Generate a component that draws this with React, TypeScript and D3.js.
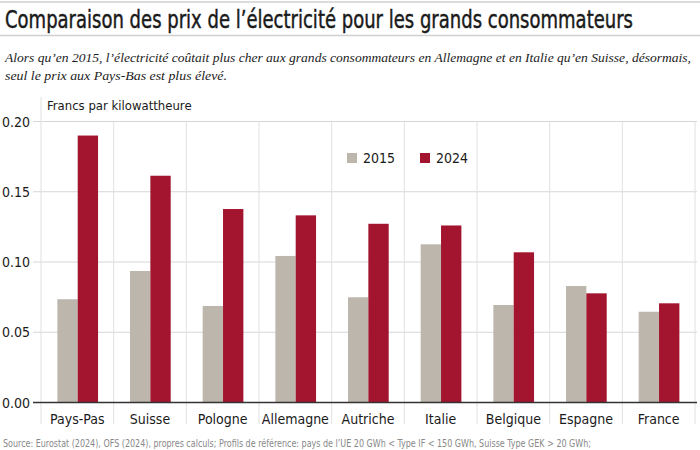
import React from 'react';
import * as d3 from 'd3';

const countries = ['Pays-Pas', 'Suisse', 'Pologne', 'Allemagne', 'Autriche', 'Italie', 'Belgique', 'Espagne', 'France'];
const values2015 = [0.0735, 0.0936, 0.0687, 0.1043, 0.0749, 0.1126, 0.0694, 0.0829, 0.0646];
const values2024 = [0.1900, 0.1614, 0.1377, 0.1332, 0.1272, 0.1260, 0.1069, 0.0777, 0.0706];
const series = ['2015', '2024'];
const yTicks = [0, 0.05, 0.1, 0.15, 0.2];

const colors: Record<string, string> = { '2015': '#bdb6ad', '2024': '#a3152f' };
const condensed = '"DejaVu Sans Condensed", "Liberation Sans Narrow", "DejaVu Sans", sans-serif';
const serif = '"Liberation Serif", "DejaVu Serif", serif';

const App: React.FC = () => {
  const width = 700;
  const height = 450;
  const margin = { left: 41, right: 5, top: 121.5 };

  // Scales
  const x = d3.scaleBand<string>()
    .domain(countries)
    .range([margin.left, 695])
    .paddingInner(0)
    .paddingOuter(0);
  const inner = d3.scaleBand<string>()
    .domain(series)
    .range([x.bandwidth() * 0.225, x.bandwidth() * 0.785]);
  const y = d3.scaleLinear().domain([0, 0.2]).range([402.5, margin.top]);

  const rows = countries.map((c, i) => ({ country: c, '2015': values2015[i], '2024': values2024[i] }));

  return (
    <svg width={width} height={height} style={{ position: 'absolute', left: 0, top: 0, background: '#fff' }}>
      {/* header */}
      <line x1={0} x2={700} y1={2} y2={2} stroke="#d0d0d0" strokeWidth={1.5} />
      <g transform="translate(5,28) scale(1,1.12)">
        <text x={0} y={0} fontFamily={condensed} fontSize={22} fill="#1a1a1a" stroke="#1a1a1a" strokeWidth={0.4}
          textLength={628} lengthAdjust="spacingAndGlyphs">
          Comparaison des prix de l’électricité pour les grands consommateurs
        </text>
      </g>
      <line x1={0} x2={700} y1={35.5} y2={35.5} stroke="#d0d0d0" strokeWidth={1.5} />
      <text x={5} y={62} fontFamily={serif} fontStyle="italic" fontSize={13.5} fill="#222"
        textLength={686} lengthAdjust="spacingAndGlyphs">
        Alors qu’en 2015, l’électricité coûtait plus cher aux grands consommateurs en Allemagne et en Italie qu’en Suisse, désormais,
      </text>
      <text x={5} y={80} fontFamily={serif} fontStyle="italic" fontSize={13.5} fill="#222"
        textLength={222} lengthAdjust="spacingAndGlyphs">
        seul le prix aux Pays-Bas est plus élevé.
      </text>

      {/* grid */}
      {yTicks.filter(t => t > 0).map(t => (
        <line key={t} x1={33} x2={697} y1={y(t)} y2={y(t)} stroke="#d6d6d6" strokeWidth={1} />
      ))}
      {countries.map((c, i) => (
        <line key={c} x1={x(c)!} x2={x(c)!} y1={i === 0 ? 97 : y(0.2)} y2={424} stroke="#e0e0e0" strokeWidth={1} />
      ))}
      <line x1={695} x2={695} y1={y(0.2)} y2={424} stroke="#e0e0e0" strokeWidth={1} />

      {/* y labels */}
      {yTicks.map(t => (
        <text key={t} x={2} y={y(t) + 5} fontFamily={condensed} fontSize={14} fill="#1a1a1a">
          {d3.format('.2f')(t)}
        </text>
      ))}
      <text x={47} y={110} fontFamily={condensed} fontSize={13} fill="#1a1a1a">Francs par kilowattheure</text>

      {/* bars */}
      {rows.map(r => (
        <g key={r.country} transform={`translate(${x(r.country)},0)`}>
          {series.map(s => {
            const v = (r as any)[s] as number;
            return (
              <rect key={s} x={inner(s)!} y={y(v)} width={inner.bandwidth()} height={y(0) - y(v)} fill={colors[s]} />
            );
          })}
        </g>
      ))}

      {/* baseline */}
      <line x1={33} x2={697} y1={y(0)} y2={y(0)} stroke="#333" strokeWidth={1.5} />

      {/* category labels */}
      {countries.map(c => (
        <text key={c} x={x(c)! + x.bandwidth() / 2} y={424} textAnchor="middle" fontFamily={condensed} fontSize={14} fill="#1a1a1a">
          {c}
        </text>
      ))}

      {/* legend */}
      {series.map((s, i) => (
        <g key={s} transform={`translate(${347 + i * 73},153)`}>
          <rect x={0} y={0} width={10} height={10} fill={colors[s]} />
          <text x={16} y={10} fontFamily={condensed} fontSize={14} fill="#1a1a1a">{s}</text>
        </g>
      ))}

      {/* source */}
      <text x={3} y={447} fontFamily={condensed} fontSize={10} fill="#888" textLength={588} lengthAdjust="spacingAndGlyphs">
        Source: Eurostat (2024), OFS (2024), propres calculs; Profils de référence: pays de l’UE 20 GWh &lt; Type IF &lt; 150 GWh, Suisse Type GEK &gt; 20 GWh;
      </text>
    </svg>
  );
};

export default App;
